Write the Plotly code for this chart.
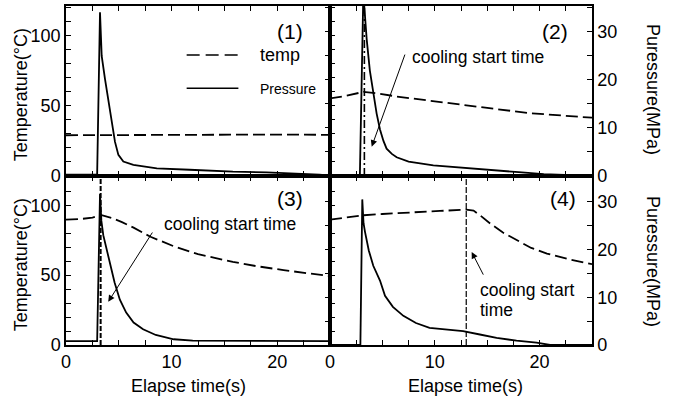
import plotly.graph_objects as go

# ---------------- data ----------------
# Panel (1)
t_temp1 = [0, 5, 10, 15, 20, 25]
temp1 = [29.0, 29.2, 29.4, 29.5, 29.5, 29.3]
t_pres1 = [0, 2.95, 3.22, 3.38, 3.69, 4.0, 4.33, 4.64, 4.96, 5.43, 6.38, 8.6, 11.7, 15.8, 19, 22.2, 24, 25]
pres1 = [0.3, 0.3, 34.1, 25.0, 20.2, 16.1, 11.3, 7.1, 4.4, 3.0, 2.3, 1.6, 1.3, 0.9, 0.75, 0.55, 0.3, 0.05]

# Panel (2)
t_temp2 = [0, 1.5, 3.2, 4.5, 6.36, 9, 12.7, 16, 19.1, 22, 25]
temp2 = [55.2, 57.0, 59.9, 58.8, 56.6, 54.0, 50.5, 47.5, 44.7, 43.0, 41.5]
t_pres2 = [0, 2.85, 3.18, 3.35, 3.5, 3.8, 4.13, 4.45, 4.77, 5.1, 5.4, 5.9, 6.36, 7.5, 9.86, 12.5, 15.9, 18, 20.4, 22.5, 24.6, 25]
pres2 = [0, 0, 38, 32, 28.5, 22, 17.3, 13, 9.7, 7.3, 5.7, 4.6, 3.9, 3.0, 2.2, 1.7, 1.2, 0.8, 0.4, 0.2, 0.05, 0]

# Panel (3)
t_temp3 = [0, 1.5, 2.5, 3.38, 4.3, 5.3, 6.4, 8, 10.2, 12.5, 15.8, 18, 20.6, 23, 25]
temp3 = [89.8, 90.3, 91.2, 92.9, 91.0, 88.0, 84.0, 77.5, 70.7, 65.0, 59.5, 56.5, 53.6, 51.0, 49.3]
t_pres3 = [0, 2.95, 3.22, 3.35, 3.53, 4.1, 4.6, 5.1, 5.7, 6.4, 7.3, 8.5, 10.2, 12, 25]
pres3 = [0.8, 0.8, 31.6, 26, 23, 17.5, 13.1, 9.5, 6.8, 4.7, 3.3, 2.1, 1.2, 0.9, 0.8]

# Panel (4)
t_temp4 = [0, 3.2, 5, 8, 10.5, 13, 13.7, 14.3, 15.3, 16.5, 17.8, 19.2, 20.7, 23, 25]
temp4 = [89.8, 92.9, 93.8, 95.2, 96.0, 96.9, 96.2, 93.0, 86.9, 80.5, 75.0, 69.5, 65.5, 61.0, 57.9]
t_pres4 = [0, 2.9, 3.08, 3.2, 3.34, 3.7, 4.13, 4.77, 5.25, 6.0, 7.0, 8.2, 9.5, 11, 12.7, 14.3, 15.9, 17.8, 19.7, 21, 25]
pres4 = [0, 0, 30.5, 25.5, 23.7, 19.8, 16.6, 13.5, 10.3, 8.0, 6.1, 4.6, 3.6, 3.2, 2.9, 2.2, 1.5, 0.9, 0.5, 0, 0]

cooling_start = [None, 3.28, 3.28, 13.0]
panel_labels = ["(1)", "(2)", "(3)", "(4)"]

x_ticks = [0, 2.5, 5, 7.5, 10, 12.5, 15, 17.5, 20, 22.5, 25]
x_ticktext = ["0", "", "", "", "10", "", "", "", "20", "", ""]
t_ticks = list(range(0, 121, 10))
t_ticktext = ["0", "", "", "", "", "50", "", "", "", "", "100", "", ""]
p_ticks = [0, 5, 10, 15, 20, 25, 30, 35]
p_ticktext = ["0", "", "10", "", "20", "", "30", ""]

T_RANGE = [0, 121]
P_RANGE = [0, 35.4]
X_RANGE = [0, 25]

FONT = "Liberation Sans, Arial, sans-serif"

# ---------------- figure ----------------
fig = go.Figure()

temps = [(t_temp1, temp1), (t_temp2, temp2), (t_temp3, temp3), (t_temp4, temp4)]
press = [(t_pres1, pres1), (t_pres2, pres2), (t_pres3, pres3), (t_pres4, pres4)]

xnames = ["x", "x2", "x3", "x4"]
ytn = ["y", "y3", "y5", "y7"]
ypn = ["y2", "y4", "y6", "y8"]

for i in range(4):
    fig.add_trace(go.Scatter(x=temps[i][0], y=temps[i][1], mode="lines",
                             line=dict(color="black", width=1.8, dash="12px,5px"),
                             xaxis=xnames[i], yaxis=ytn[i], showlegend=False))
    fig.add_trace(go.Scatter(x=press[i][0], y=press[i][1], mode="lines",
                             line=dict(color="black", width=1.8),
                             xaxis=xnames[i], yaxis=ypn[i], showlegend=False))

XL = 264 / 526
YB = 170 / 341
xdom = [[0, XL], [XL, 1], [0, XL], [XL, 1]]
ydom = [[YB, 1], [YB, 1], [0, YB], [0, YB]]

common = dict(ticks="inside", ticklen=5, tickwidth=1, tickcolor="black",
              showline=True, linecolor="black", linewidth=1.5,
              showgrid=False, zeroline=False,
              tickfont=dict(family=FONT, size=18, color="black"))

layout = dict()
for i in range(4):
    xk = "xaxis" if i == 0 else f"xaxis{i+1}"
    layout[xk] = dict(domain=xdom[i], anchor=ytn[i], range=X_RANGE,
                      tickmode="array", tickvals=x_ticks, ticktext=x_ticktext,
                      mirror="ticks", showticklabels=(i >= 2), **common)
    ytk = "yaxis" if i == 0 else f"yaxis{2*i+1}"
    ypk = f"yaxis{2*i+2}"
    layout[ytk] = dict(domain=ydom[i], anchor=xnames[i], range=T_RANGE,
                       tickmode="array", tickvals=t_ticks, ticktext=t_ticktext,
                       side="left", showticklabels=(i % 2 == 0), **common)
    layout[ypk] = dict(overlaying=ytn[i], anchor=xnames[i], range=P_RANGE,
                       tickmode="array", tickvals=p_ticks, ticktext=p_ticktext,
                       side="right", showticklabels=(i % 2 == 1), **common)

fig.update_layout(**layout)

annotations = []
shapes = []

# panel labels
lab_pos = [(0.905, 0.848), (0.916, 0.848), (0.905, 0.865), (0.948, 0.865)]
for i in range(4):
    annotations.append(dict(text=panel_labels[i], xref=f"{xnames[i]} domain", yref=f"{ytn[i]} domain",
                            x=lab_pos[i][0], y=lab_pos[i][1], xanchor="right", yanchor="middle",
                            showarrow=False, font=dict(family=FONT, size=21, color="black")))

# legend in panel 1
shapes.append(dict(type="line", xref="x domain", yref="y domain", x0=0.457, x1=0.653, y0=0.712, y1=0.712,
                   line=dict(color="black", width=1.5, dash="13px,6px")))
shapes.append(dict(type="line", xref="x domain", yref="y domain", x0=0.457, x1=0.653, y0=0.516, y1=0.516,
                   line=dict(color="black", width=1.5)))
annotations.append(dict(text="temp", xref="x domain", yref="y domain", x=0.727, y=0.712,
                        xanchor="left", yanchor="middle", showarrow=False,
                        font=dict(family=FONT, size=18, color="black")))
annotations.append(dict(text="Pressure", xref="x domain", yref="y domain", x=0.727, y=0.510,
                        xanchor="left", yanchor="middle", showarrow=False,
                        font=dict(family=FONT, size=14, color="black")))

# cooling start lines
dashes = [None, "8px,3px,2px,3px", "5px,2px", "6px,2px"]
widths = [None, 1.6, 2.0, 1.2]
for i in range(1, 4):
    shapes.append(dict(type="line", xref=xnames[i], yref=f"{ytn[i]} domain",
                       x0=cooling_start[i], x1=cooling_start[i], y0=0, y1=1,
                       line=dict(color="black", width=widths[i], dash=dashes[i])))

# cooling start text + arrows
cfont = dict(family=FONT, size=17.5, color="black")
annotations.append(dict(text="cooling start time", xref="x2", yref="y3", x=7.63, y=84.7,
                        xanchor="left", yanchor="middle", showarrow=False, font=cfont))
annotations.append(dict(text="", xref="x2", yref="y3", axref="x2", ayref="y3",
                        x=3.98, y=20.9, ax=7.2, ay=87.5, showarrow=True,
                        arrowhead=2, arrowsize=1.3, arrowwidth=1, arrowcolor="black"))
annotations.append(dict(text="cooling start time", xref="x3", yref="y5", x=9.06, y=86.4,
                        xanchor="left", yanchor="middle", showarrow=False, font=cfont))
annotations.append(dict(text="", xref="x3", yref="y5", axref="x3", ayref="y5",
                        x=4.0, y=30.9, ax=8.27, ay=81.6, showarrow=True,
                        arrowhead=2, arrowsize=1.3, arrowwidth=1, arrowcolor="black"))
annotations.append(dict(text="cooling start", xref="x4", yref="y7", x=14.15, y=39.3,
                        xanchor="left", yanchor="middle", showarrow=False, font=cfont))
annotations.append(dict(text="time", xref="x4", yref="y7", x=14.15, y=25.0,
                        xanchor="left", yanchor="middle", showarrow=False, font=cfont))
annotations.append(dict(text="", xref="x4", yref="y7", axref="x4", ayref="y7",
                        x=13.52, y=66.6, ax=14.7, ay=49.3, showarrow=True,
                        arrowhead=2, arrowsize=1.3, arrowwidth=1, arrowcolor="black"))

# axis titles
tfont = dict(family=FONT, size=18, color="black")
for yc in [0.739, 0.2375]:
    annotations.append(dict(text="Temperature(°C)", xref="paper", yref="paper", x=-0.0842, y=yc,
                            textangle=-90, showarrow=False, xanchor="center", yanchor="middle", font=tfont))
for yc in [0.755, 0.248]:
    annotations.append(dict(text="Puressure(MPa)", xref="paper", yref="paper", x=1.116, y=yc,
                            textangle=90, showarrow=False, xanchor="center", yanchor="middle", font=tfont))
for xc in [0.232, 0.760]:
    annotations.append(dict(text="Elapse time(s)", xref="paper", yref="paper", x=xc, y=-0.12,
                            showarrow=False, xanchor="center", yanchor="middle", font=tfont))

fig.update_layout(annotations=annotations, shapes=shapes,
                  width=673, height=403, autosize=False,
                  margin=dict(l=66, r=81, t=4, b=58),
                  paper_bgcolor="white", plot_bgcolor="white",
                  showlegend=False, font=dict(family=FONT, color="black"))

fig.write_html("out.html", config={"displayModeBar": False},
               post_script="document.body.style.margin='0px';")
